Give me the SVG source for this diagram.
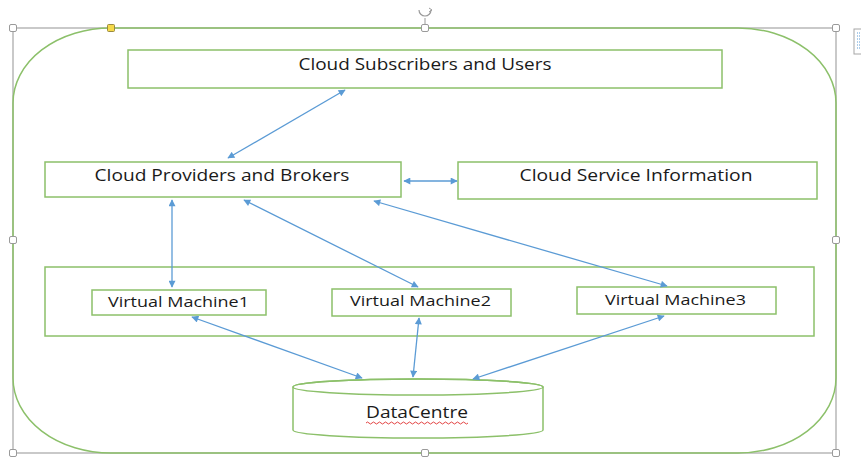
<svg xmlns="http://www.w3.org/2000/svg" width="861" height="457" viewBox="0 0 861 457">
<style>
.box{fill:#fff;stroke:#8cc06a;stroke-width:1.5}
.lbl{font-family:"Open Sans","Liberation Sans",sans-serif;fill:#1a1a1a;text-anchor:middle}
.big{font-size:16px}
.sm{font-size:15px}
.conn line{stroke:#5b9bd5;stroke-width:1.3;marker-start:url(#ah);marker-end:url(#ah)}
.h{fill:#fff;stroke:#9a9a9a;stroke-width:1}
</style>
<defs>
<marker id="ah" viewBox="0 0 10 10" refX="9" refY="5" markerWidth="8" markerHeight="7" orient="auto-start-reverse" markerUnits="userSpaceOnUse">
<path d="M0,0 L10,5 L0,10 z" fill="#5b9bd5"/>
</marker>
</defs>
<rect width="861" height="457" fill="#fff"/>
<g id="frame">
<rect x="13" y="28" width="823" height="425" fill="none" stroke="#a6a6a6" stroke-width="1.2"/>
<rect x="13" y="28" width="823" height="425" rx="98" ry="75" fill="none" stroke="#8cc06a" stroke-width="1.5"/>
</g>
<g id="subscribers"><rect class="box" x="128" y="50" width="594" height="38"/><text class="lbl big" x="425" y="70" textLength="253" lengthAdjust="spacingAndGlyphs">Cloud Subscribers and Users</text></g>
<g id="providers"><rect class="box" x="45" y="162" width="356" height="35"/><text class="lbl big" x="222" y="181" textLength="255" lengthAdjust="spacingAndGlyphs">Cloud Providers and Brokers</text></g>
<g id="serviceinfo"><rect class="box" x="458" y="162" width="359" height="37"/><text class="lbl big" x="636" y="181" textLength="233" lengthAdjust="spacingAndGlyphs">Cloud Service Information</text></g>
<g id="vmgroup"><rect class="box" x="45" y="267" width="769" height="69"/></g>
<g id="vm1"><rect class="box" x="92" y="290" width="174" height="25"/><text class="lbl sm" x="178.5" y="307" textLength="141" lengthAdjust="spacingAndGlyphs">Virtual Machine1</text></g>
<g id="vm2"><rect class="box" x="332" y="289" width="179" height="27"/><text class="lbl sm" x="420.5" y="306" textLength="141" lengthAdjust="spacingAndGlyphs">Virtual Machine2</text></g>
<g id="vm3"><rect class="box" x="577" y="287" width="199" height="27"/><text class="lbl sm" x="675.5" y="305" textLength="141" lengthAdjust="spacingAndGlyphs">Virtual Machine3</text></g>
<g id="datacentre">
<path class="box" d="M293,387 L293,430 A125,8 0 0 0 543,430 L543,387 A125,8 0 0 0 293,387 Z"/>
<ellipse cx="418" cy="387" rx="125" ry="8" fill="none" stroke="#8cc06a" stroke-width="1.5"/>
<text class="lbl big" x="417" y="418" textLength="102" lengthAdjust="spacingAndGlyphs">DataCentre</text>
<path d="M366,423 q1.5,-2 3,0 t3,0 t3,0 t3,0 t3,0 t3,0 t3,0 t3,0 t3,0 t3,0 t3,0 t3,0 t3,0 t3,0 t3,0 t3,0 t3,0 t3,0 t3,0 t3,0 t3,0 t3,0 t3,0 t3,0 t3,0 t3,0 t3,0 t3,0 t3,0 t3,0 t3,0 t3,0 t3,0 t3,0" fill="none" stroke="#e03030" stroke-width="0.9"/>
</g>
<g id="connectors" class="conn">
<line x1="228" y1="158" x2="345" y2="90"/>
<line x1="404" y1="181" x2="457" y2="181"/>
<line x1="172" y1="200" x2="172" y2="287"/>
<line x1="244" y1="200" x2="418" y2="287"/>
<line x1="374" y1="201" x2="667" y2="286"/>
<line x1="192" y1="317" x2="362" y2="378"/>
<line x1="419" y1="318" x2="413" y2="377"/>
<line x1="664" y1="316" x2="473" y2="379"/>
</g>
<g id="handles">
<rect class="h" x="9.5" y="24.5" width="7" height="7" rx="1.5"/>
<rect x="107.5" y="24.5" width="7" height="7" rx="1" fill="#f5d949" stroke="#9a8a40"/>
<rect class="h" x="421.5" y="24.5" width="7" height="7" rx="1.5"/>
<rect class="h" x="832.5" y="24.5" width="7" height="7" rx="1.5"/>
<rect class="h" x="9.5" y="236.5" width="7" height="7" rx="1.5"/>
<rect class="h" x="832.5" y="236.5" width="7" height="7" rx="1.5"/>
<rect class="h" x="9.5" y="449.5" width="7" height="7" rx="1.5"/>
<rect class="h" x="421.5" y="449.5" width="7" height="7" rx="1.5"/>
<rect class="h" x="832.5" y="449.5" width="7" height="7" rx="1.5"/>
<line x1="425" y1="18" x2="425" y2="24.5" stroke="#9a9a9a"/>
<path d="M419,10 A6,6 0 0 0 431,10" fill="none" stroke="#9a9a9a" stroke-width="1.2"/>
<path d="M429,8 L432,10 L429,12" fill="none" stroke="#9a9a9a"/>
<rect x="854" y="29" width="10" height="25" fill="#fff" stroke="#a6a6a6"/>
<path d="M857,33 h4 M857,36 h4 M857,39 h4 M857,42 h4 M857,45 h4 M857,48 h4" stroke="#5b9bd5" stroke-dasharray="1,1"/>
</g>
</svg>
